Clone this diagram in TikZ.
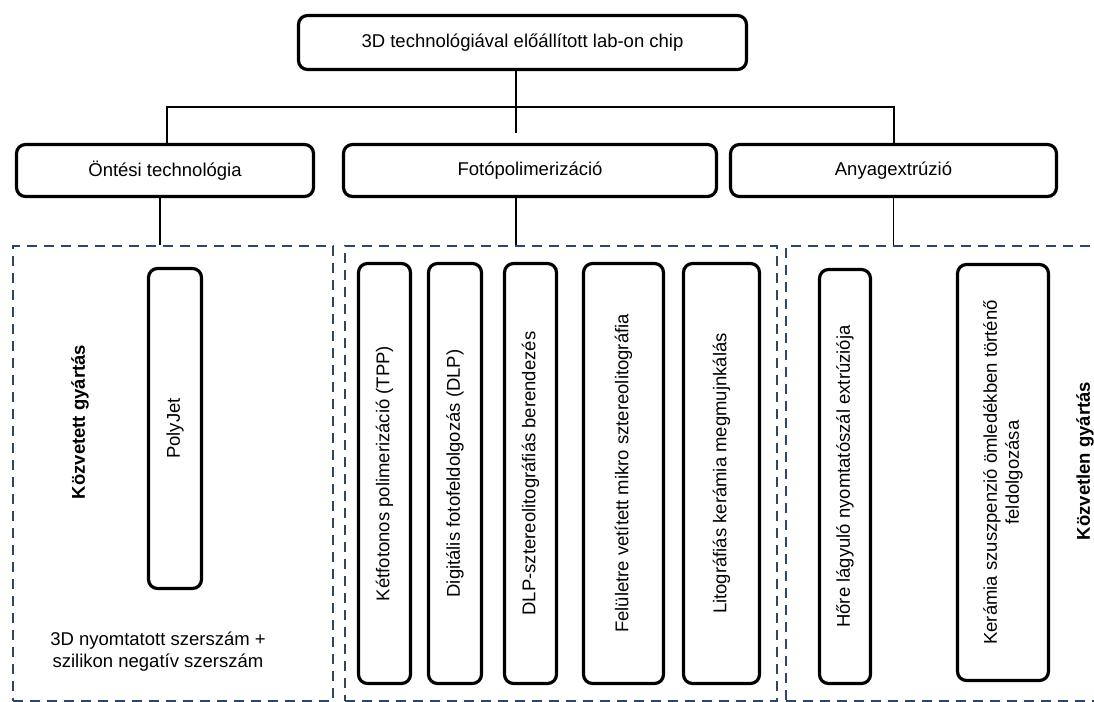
\documentclass[tikz,border=0pt]{standalone}
\usepackage{fontspec}
\setmainfont{Liberation Sans}
\definecolor{groupblue}{RGB}{47,70,104}

\begin{document}
\begin{tikzpicture}[x=1pt,y=-1pt,
    every node/.style={font=\fontsize{18.5}{22}\selectfont},
    box/.style={draw, line width=3.2pt, rounded corners=9pt, inner sep=0pt, align=center},
    tallbox/.style={box, rotate=90},
    group/.style={draw=groupblue, line width=2.4pt, dash pattern=on 10pt off 7pt, inner sep=0pt},
    conn/.style={line width=1.4pt},
    side/.style={rotate=90, font=\fontsize{18.5}{22}\selectfont\bfseries}]
    \clip (0,0) rectangle (1094,701);

    % top and second level
    \node[box, minimum width=448, minimum height=54] (chip) at (522.5,42.5) {3D technológiával előállított lab-on chip};
    \node[box, minimum width=297, minimum height=52] (ontes) at (165,170.5) {Öntési technológia};
    \node[box, minimum width=373, minimum height=52] (foto) at (530,170.5) {Fotópolimerizáció};
    \node[box, minimum width=326, minimum height=52] (anyag) at (893.5,170.5) {Anyagextrúzió};

    \coordinate (hub) at (516,107);
    \coordinate (hubL) at (167,107);
    \coordinate (hubR) at (894,107);
    \draw[conn] (chip.south -| hub) -- (hub) -- ++(0,26);
    \draw[conn] (ontes.north -| hubL) -- (hubL) -- (hubR) -- (anyag.north -| hubR);

    % dashed groups
    \node[group, minimum width=320, minimum height=455] (indirect) at (173,473.5) {};
    \node[group, minimum width=432, minimum height=455] (photo) at (561,473.5) {};
    \node[group, minimum width=324, minimum height=455] (direct) at (948,473.5) {};

    \draw[conn] ([xshift=-5pt]ontes.south) -- ([xshift=-5pt]ontes.south |- indirect.north);
    \draw[conn] ([xshift=-14pt]foto.south) -- ([xshift=-14pt]foto.south |- photo.north);
    \draw[conn] (anyag.south) -- (anyag.south |- direct.north);

    % processes
    \node[tallbox, minimum width=320, minimum height=53] (polyjet) at (175,428.5) {PolyJet};
    \node[tallbox, minimum width=420, minimum height=52] (tpp) at (384.5,473.5) {Kétfotonos polimerizáció (TPP)};
    \node[tallbox, minimum width=420, minimum height=53] (dlp) at (455,473.5) {Digitális fotofeldolgozás (DLP)};
    \node[tallbox, minimum width=420, minimum height=52] (dlpsla) at (530.5,473.5) {DLP-sztereolitográfiás berendezés};
    \node[tallbox, minimum width=420, minimum height=80] (psla) at (623.5,473.5) {Felületre vetített mikro sztereolitográfia};
    \node[tallbox, minimum width=420, minimum height=76] (lcm) at (721.5,473.5) {Litográfiás kerámia megmujnkálás};
    \node[tallbox, minimum width=414, minimum height=51] (fdm) at (845,476.5) {Hőre lágyuló nyomtatószál extrúziója};
    \node[tallbox, minimum width=416, minimum height=91] (robo) at (1003,472.5) {Kerámia szuszpenzió ömledékben történő\\feldolgozása};

    % side labels
    \node[side] (kozvetett) at (80,422) {Közvetett gyártás};
    \node[side] (kozvetlen) at (1085,461) {Közvetlen gyártás};
    \node[align=center] (mold) at (158,652) {3D nyomtatott szerszám +\\szilikon negatív szerszám};
\end{tikzpicture}
\end{document}
